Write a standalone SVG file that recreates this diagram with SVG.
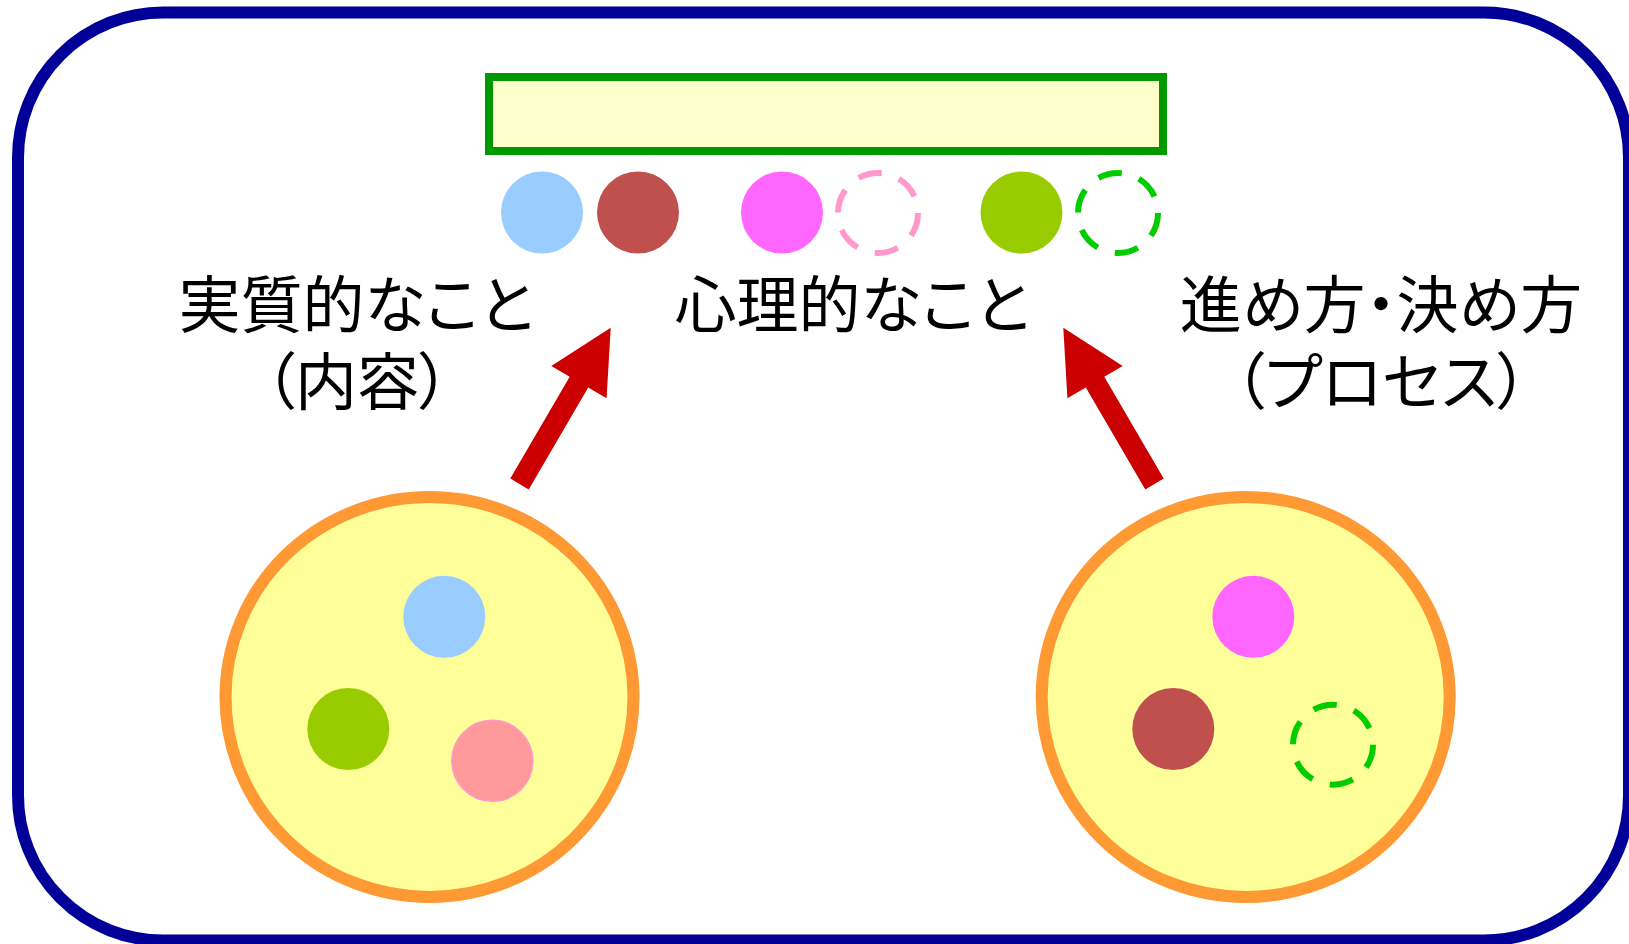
<svg xmlns="http://www.w3.org/2000/svg" width="1629" height="944" viewBox="0 0 1629 944">
<style>
.lbl{font-family:'Noto Sans CJK JP','Noto Sans CJK SC',sans-serif;font-size:62px;fill:#000;text-anchor:middle;font-feature-settings:"palt" 1;}
.big{fill:#FFFF99;stroke:#FF9933;stroke-width:12;}
.dot{stroke:none;}
.dash{fill:none;stroke-width:6;stroke-dasharray:24 18;}
.arrow{fill:#CC0000;}
</style>
<rect id="frame" x="18" y="12.5" width="1611" height="928" rx="145" ry="145" fill="#FFFFFF" stroke="#000099" stroke-width="12"/>
<g id="topbox"><rect x="489" y="77" width="674" height="74" fill="#FFFFCC" stroke="#009900" stroke-width="8"/></g>
<g id="topdots">
<circle cx="542" cy="212.5" r="41" fill="#99CCFF" class="dot"/>
<circle cx="638" cy="212.5" r="41" fill="#C0504D" class="dot"/>
<circle cx="782" cy="212.5" r="41" fill="#FF66FF" class="dot"/>
<circle cx="878" cy="213" r="40" stroke="#FF99CC" class="dash"/>
<circle cx="1021.5" cy="212.5" r="41" fill="#99CC00" class="dot"/>
<circle cx="1118" cy="213" r="40" stroke="#00CC00" class="dash"/>
</g>
<g id="label-content"><text class="lbl" x="356" y="328">実質的なこと</text><text class="lbl" x="357" y="405">（内容）</text></g>
<g id="label-psych"><text class="lbl" x="852" y="328">心理的なこと</text></g>
<g id="label-process"><text class="lbl" x="1381" y="328">進め方・決め方</text><text class="lbl" x="1381" y="405">（プロセス）</text></g>
<g id="group-left">
<ellipse cx="429.5" cy="697" rx="204" ry="200" class="big"/>
<circle cx="444.3" cy="616.8" r="41" fill="#99CCFF"/>
<circle cx="348.3" cy="729" r="41" fill="#99CC00"/>
<circle cx="492.3" cy="760.8" r="40.5" fill="#FF9999" stroke="#FF99CC" stroke-width="1.5"/>
</g>
<g id="group-right">
<ellipse cx="1245.7" cy="697" rx="204" ry="200" class="big"/>
<circle cx="1253.3" cy="616.8" r="41" fill="#FF66FF"/>
<circle cx="1173.3" cy="729" r="41" fill="#C0504D"/>
<circle cx="1333" cy="744.7" r="40" stroke="#00CC00" class="dash"/>
</g>
<g id="connectors">
<polygon class="arrow" points="510.3,478.6 569.7,376.7 551.3,366 610.7,327.7 606.6,398.2 588.2,387.5 528.7,489.4"/>
<polygon class="arrow" points="1163.7,478.6 1104.3,376.7 1122.7,366 1063.3,327.7 1067.4,398.2 1085.8,387.5 1145.3,489.4"/>
</g>
</svg>
